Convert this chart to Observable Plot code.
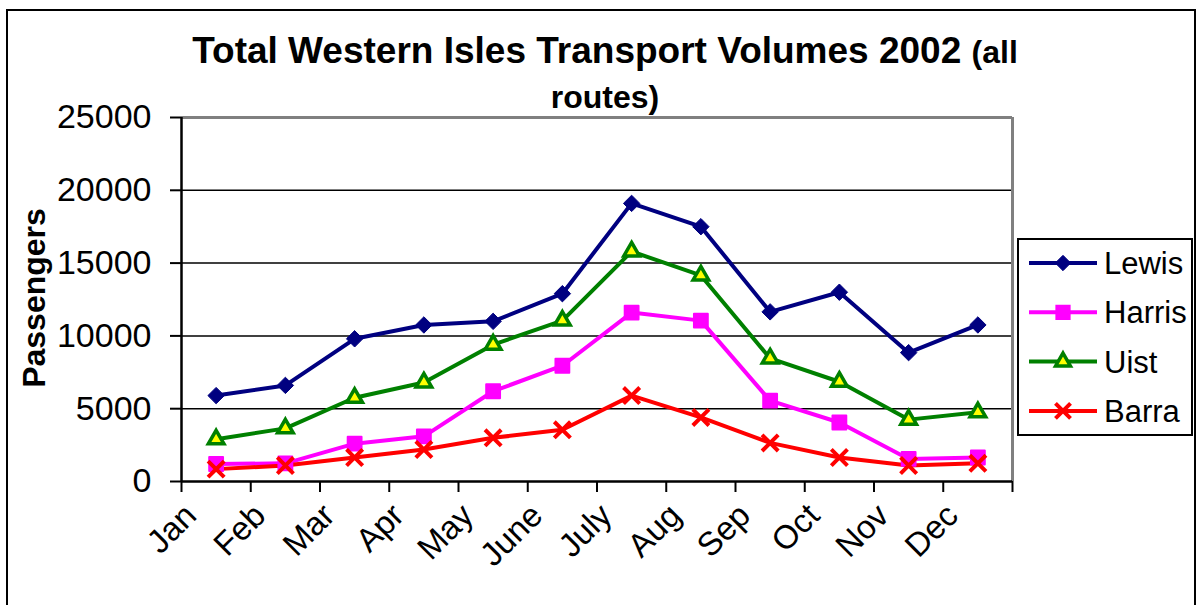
<!DOCTYPE html>
<html>
<head>
<meta charset="utf-8">
<script src="https://cdn.jsdelivr.net/npm/d3@7"></script>
<script src="https://cdn.jsdelivr.net/npm/@observablehq/plot@0.6"></script>
<style>
  html, body { margin: 0; padding: 0; background: #fff; }
  #wrap { position: relative; width: 1202px; height: 605px; overflow: hidden; font-family: "Liberation Sans", Arial, sans-serif; }
  #frame { position: absolute; left: 6px; top: 9px; width: 1190px; height: 640px; border: 2px solid #000; box-sizing: border-box; pointer-events: none; }
  #title { position: absolute; left: 165px; width: 880px; top: 29px; text-align: center; font-weight: bold; font-size: 37px; line-height: 43px; color: #000; }
  #title .small { font-size: 32px; }
  #ylabel { position: absolute; left: 34px; top: 298px; transform: translate(-50%, -50%) rotate(-90deg); font-weight: bold; font-size: 32px; white-space: nowrap; color: #000; }
  #legend { position: absolute; left: 1017px; top: 238px; }
  #chart { position: absolute; left: 0; top: 0; }
</style>
</head>
<body>
<div id="wrap">
  <div id="chart"></div>
  <div id="frame"></div>
  <div id="title">Total Western Isles Transport Volumes 2002 <span class="small">(all</span><br><span class="small">routes)</span></div>
  <div id="ylabel">Passengers</div>
  <div id="legend"></div>
</div>
<script>
const months = ["Jan", "Feb", "Mar", "Apr", "May", "June", "July", "Aug", "Sep", "Oct", "Nov", "Dec"];
const lewis  = [5900, 6600, 9800, 10750, 11000, 12900, 19100, 17500, 11650, 13000, 8850, 10750];
const harris = [1200, 1250, 2600, 3100, 6200, 7950, 11600, 11050, 5550, 4050, 1550, 1650];
const uist   = [2900, 3650, 5750, 6800, 9400, 11050, 15800, 14150, 8450, 6850, 4250, 4750];
const barra  = [850, 1100, 1650, 2200, 3000, 3550, 5900, 4400, 2650, 1650, 1100, 1250];
const seriesNames = ["Lewis", "Harris", "Uist", "Barra"];
const yTicks = [0, 5000, 10000, 15000, 20000, 25000];

const colors = ["#000080", "#FF00FF", "#008000", "#FF0000"];
const seriesValues = [lewis, harris, uist, barra];
const data = seriesNames.flatMap((s, k) => seriesValues[k].map((v, i) => ({series: s, i, month: months[i], value: v})));
const bySeries = s => data.filter(d => d.series === s);
const xc = d => d.i + 0.5;

const chart = Plot.plot({
  width: 1202,
  height: 605,
  marginTop: 117,
  marginLeft: 181,
  marginRight: 190,
  marginBottom: 124,
  style: {fontFamily: '"Liberation Sans", Arial, sans-serif', color: "#000", background: "transparent"},
  x: {type: "linear", domain: [0, 12], axis: null},
  y: {domain: [0, 25000], axis: null},
  color: {domain: seriesNames, range: colors},
  marks: [
    Plot.ruleY(yTicks.filter(t => t > 0 && t < 25000), {stroke: "#000", strokeWidth: 1.5}),
    Plot.ruleY([25000], {stroke: "#808080", strokeWidth: 3}),
    Plot.ruleX([12], {stroke: "#808080", strokeWidth: 3}),
    Plot.axisY({ticks: yTicks, label: null, tickSize: 11, tickPadding: 19, fontSize: 34, tickFormat: d3.format("d"), strokeWidth: 2}),
    Plot.axisX({ticks: d3.range(13), label: null, tickSize: 11, tickFormat: () => "", strokeWidth: 2}),
    Plot.ruleX([0], {stroke: "#000", strokeWidth: 2.5}),
    Plot.ruleY([0], {stroke: "#000", strokeWidth: 2.5}),
    Plot.text(months, {x: (d, i) => i + 0.5, frameAnchor: "bottom", rotate: -45, textAnchor: "end", dx: -18, dy: 36, fontSize: 33}),
    Plot.line(data, {x: xc, y: "value", z: "series", stroke: "series", strokeWidth: 4}),
    Plot.dot(bySeries("Lewis"), {x: xc, y: "value", symbol: "diamond2", r: 7.4, fill: colors[0], stroke: colors[0], strokeWidth: 1}),
    Plot.dot(bySeries("Harris"), {x: xc, y: "value", symbol: "square", r: 7.8, fill: colors[1], stroke: colors[1], strokeWidth: 2, strokeLinejoin: "round"}),
    Plot.dot(bySeries("Uist"), {x: xc, y: "value", symbol: "triangle", r: 5.8, fill: "#FFFF00", stroke: colors[2], strokeWidth: 3.5}),
    Plot.dot(bySeries("Barra"), {x: xc, y: "value", symbol: "times", r: 7.4, fill: "none", stroke: colors[3], strokeWidth: 4})
  ]
});
document.getElementById("chart").appendChild(chart);

// Legend
const symDefs = [
  {sym: d3.symbolDiamond2, size: 150, fill: colors[0], stroke: colors[0], sw: 1},
  {sym: d3.symbolSquare, size: 175, fill: colors[1], stroke: colors[1], sw: 2},
  {sym: d3.symbolTriangle, size: 95, fill: "#FFFF00", stroke: colors[2], sw: 3.5},
  {sym: d3.symbolTimes, size: 150, fill: "none", stroke: colors[3], sw: 4}
];
const lw = 176, lh = 198;
const lsvg = d3.create("svg").attr("width", lw).attr("height", lh)
  .style("font-family", '"Liberation Sans", Arial, sans-serif');
lsvg.append("rect").attr("x", 1).attr("y", 1).attr("width", lw - 2).attr("height", lh - 2)
  .attr("fill", "#fff").attr("stroke", "#000").attr("stroke-width", 2);
seriesNames.forEach((s, k) => {
  const cy = 25 + k * 49.3;
  const g = lsvg.append("g");
  g.append("line").attr("x1", 12).attr("x2", 80).attr("y1", cy).attr("y2", cy)
    .attr("stroke", colors[k]).attr("stroke-width", 4);
  g.append("path").attr("transform", `translate(46,${cy})`)
    .attr("d", d3.symbol(symDefs[k].sym, symDefs[k].size)())
    .attr("fill", symDefs[k].fill).attr("stroke", symDefs[k].stroke).attr("stroke-width", symDefs[k].sw);
  g.append("text").attr("x", 87).attr("y", cy).attr("dy", "0.36em")
    .attr("font-size", 31).attr("fill", "#000").text(s);
});
document.getElementById("legend").appendChild(lsvg.node());
</script>
</body>
</html>
